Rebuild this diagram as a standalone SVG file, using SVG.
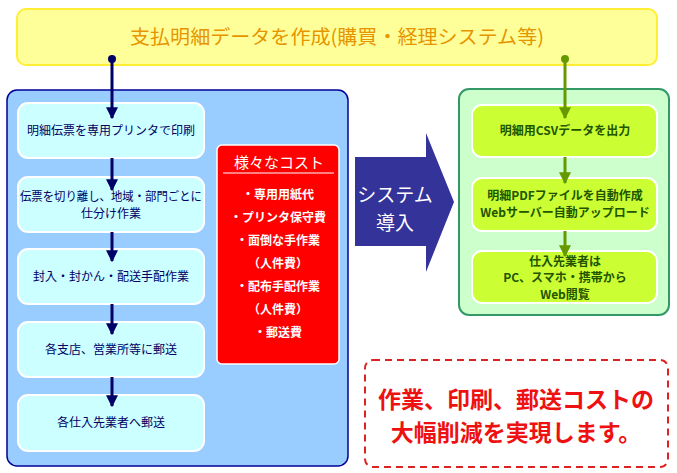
<svg xmlns="http://www.w3.org/2000/svg" width="677" height="473" viewBox="0 0 677 473">
<style>
text{font-family:"Noto Sans CJK JP","Noto Sans",sans-serif;text-anchor:middle}
.lbox{fill:#ccffff;stroke:#ffffff;stroke-width:2}
.ltxt{font-size:12px;fill:#000066}
.gbox{fill:#ccff33;stroke:#ffffff;stroke-width:2}
.gtxt{font-size:12px;fill:#225500;font-weight:bold}
.ctxt{font-size:12px;fill:#ffffff;font-weight:bold}
.nav{stroke:#000066;stroke-width:3;fill:none}
.grn{stroke:#669900;stroke-width:3;fill:none}
</style>
<defs>
<marker id="an" viewBox="0 0 10 10" refX="9" refY="5" markerWidth="4" markerHeight="4" orient="auto" markerUnits="strokeWidth"><path d="M0,0 L10,5 L0,10 z" fill="#000066"/></marker>
<marker id="ag" viewBox="0 0 10 10" refX="9" refY="5" markerWidth="4" markerHeight="4" orient="auto" markerUnits="strokeWidth"><path d="M0,0 L10,5 L0,10 z" fill="#669900"/></marker>
</defs>
<rect width="677" height="473" fill="#ffffff"/>
<g id="top">
<rect x="17" y="9" width="640" height="56" rx="9" fill="#ffff99" stroke="#ffee33" stroke-width="2"/>
<text x="337" y="44" style="font-size:19.5px;fill:#e69500" textLength="414" lengthAdjust="spacingAndGlyphs">支払明細データを作成(購買・経理システム等)</text>
</g>
<g id="leftpanel">
<rect x="7" y="90" width="341" height="376" rx="10" fill="#99ccff" stroke="#000099" stroke-width="1.5"/>
</g>
<g id="l1"><rect class="lbox" x="18" y="103" width="186" height="55" rx="10"/><text class="ltxt" x="111" y="135">明細伝票を専用プリンタで印刷</text></g>
<g id="l2"><rect class="lbox" x="18" y="177" width="186" height="55" rx="10"/><text class="ltxt" x="111" y="201" textLength="182" lengthAdjust="spacingAndGlyphs">伝票を切り離し、地域・部門ごとに</text><text class="ltxt" x="111" y="218">仕分け作業</text></g>
<g id="l3"><rect class="lbox" x="18" y="249" width="186" height="55" rx="10"/><text class="ltxt" x="111" y="281">封入・封かん・配送手配作業</text></g>
<g id="l4"><rect class="lbox" x="18" y="322" width="186" height="55" rx="10"/><text class="ltxt" x="111" y="354">各支店、営業所等に郵送</text></g>
<g id="l5"><rect class="lbox" x="18" y="395" width="186" height="56" rx="10"/><text class="ltxt" x="111" y="427">各仕入先業者へ郵送</text></g>
<g id="cost">
<rect x="217" y="145" width="122" height="219" rx="5" fill="#ff0000" stroke="#ffffff" stroke-width="1.5"/>
<text x="279" y="168" style="font-size:15px;fill:#ffffff">様々なコスト</text>
<line x1="223" y1="173" x2="334" y2="173" stroke="#ffffff" stroke-width="1.2"/>
<text class="ctxt" x="278" y="199">・専用用紙代</text>
<text class="ctxt" x="278" y="222">・プリンタ保守費</text>
<text class="ctxt" x="278" y="245">・面倒な手作業</text>
<text class="ctxt" x="278" y="268">（人件費）</text>
<text class="ctxt" x="278" y="291">・配布手配作業</text>
<text class="ctxt" x="278" y="314">（人件費）</text>
<text class="ctxt" x="278" y="337">・郵送費</text>
</g>
<g id="system">
<polygon points="355,157 426,157 426,133 454,202 426,272 426,246 355,246" fill="#333399"/>
<text x="395" y="202" style="font-size:19px;fill:#ffffff">システム</text>
<text x="395" y="230" style="font-size:19px;fill:#ffffff">導入</text>
</g>
<g id="rightpanel">
<rect x="459" y="89" width="210" height="226" rx="10" fill="#ccffcc" stroke="#339966" stroke-width="2"/>
</g>
<g id="g1"><rect class="gbox" x="472" y="105" width="185" height="52" rx="10"/><text class="gtxt" x="565" y="135">明細用CSVデータを出力</text></g>
<g id="g2"><rect class="gbox" x="472" y="178" width="185" height="53" rx="10"/><text class="gtxt" x="565" y="200">明細PDFファイルを自動作成</text><text class="gtxt" x="565" y="217">Webサーバー自動アップロード</text></g>
<g id="g3"><rect class="gbox" x="472" y="251" width="185" height="52" rx="10"/><text class="gtxt" x="565" y="266">仕入先業者は</text><text class="gtxt" x="565" y="282">PC、スマホ・携帯から</text><text class="gtxt" x="565" y="299">Web閲覧</text></g>
<g id="result">
<rect x="365" y="360" width="303" height="107" rx="8" fill="none" stroke="#dd2222" stroke-width="2" stroke-dasharray="7,5"/>
<text x="516" y="408" style="font-size:23px;fill:#ee1111;font-weight:bold">作業、印刷、郵送コストの</text>
<text x="516" y="441" style="font-size:23px;fill:#ee1111;font-weight:bold">大幅削減を実現します。</text>
</g>
<g id="connectors">
<circle cx="112" cy="59" r="4" fill="#000066"/>
<line class="nav" x1="112" y1="59" x2="112" y2="118" marker-end="url(#an)"/>
<line class="nav" x1="112" y1="158" x2="112" y2="190" marker-end="url(#an)"/>
<line class="nav" x1="112" y1="232" x2="112" y2="261" marker-end="url(#an)"/>
<line class="nav" x1="112" y1="304" x2="112" y2="334" marker-end="url(#an)"/>
<line class="nav" x1="112" y1="377" x2="112" y2="406" marker-end="url(#an)"/>
<circle cx="565" cy="59" r="4" fill="#669900"/>
<line class="grn" x1="565" y1="59" x2="565" y2="118" marker-end="url(#ag)"/>
<line class="grn" x1="565" y1="157" x2="565" y2="183" marker-end="url(#ag)"/>
<line class="grn" x1="565" y1="231" x2="565" y2="256" marker-end="url(#ag)"/>
</g>
</svg>
